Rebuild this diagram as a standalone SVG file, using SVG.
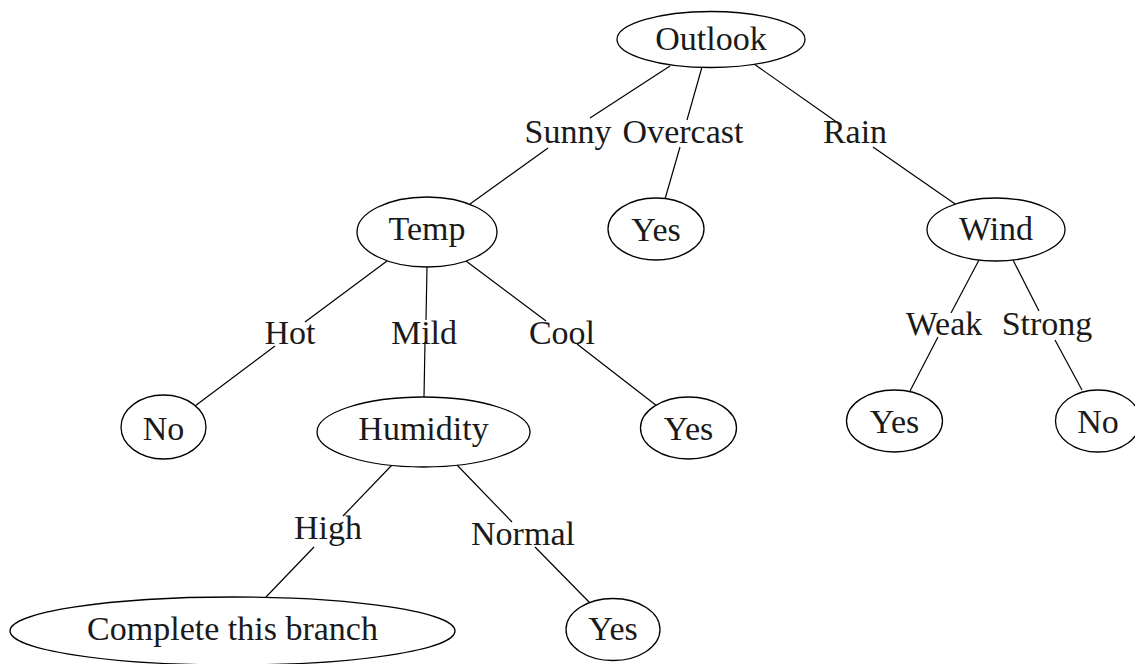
<svg xmlns="http://www.w3.org/2000/svg" width="1135" height="664" viewBox="0 0 1135 664">
<style>
  .n ellipse { fill: #fff; stroke: #000; stroke-width: 1.3; }
  text { font-family: "Liberation Serif", "Times New Roman", serif; font-size: 34px; fill: #1a1a1a; text-anchor: middle; }
  #edges line { stroke: #000; stroke-width: 1.2; }
</style>
<rect width="1135" height="664" fill="#fff"/>
<g id="edges">
  <line x1="670" y1="66" x2="590" y2="118"/>
  <line x1="548" y1="148" x2="470" y2="204"/>
  <line x1="702" y1="67" x2="687" y2="120"/>
  <line x1="680" y1="147" x2="665" y2="199"/>
  <line x1="754" y1="64" x2="838" y2="123"/>
  <line x1="873" y1="147" x2="958" y2="206"/>
  <line x1="387" y1="261" x2="305" y2="322"/>
  <line x1="275" y1="346" x2="195" y2="406"/>
  <line x1="427" y1="267" x2="426" y2="320"/>
  <line x1="425" y1="342" x2="424" y2="397"/>
  <line x1="466" y1="261" x2="546" y2="321"/>
  <line x1="577" y1="344" x2="657" y2="406"/>
  <line x1="979" y1="260" x2="951" y2="313"/>
  <line x1="938" y1="337" x2="910" y2="391"/>
  <line x1="1013" y1="260" x2="1039" y2="311"/>
  <line x1="1055" y1="340" x2="1082" y2="390"/>
  <line x1="392" y1="465" x2="343" y2="516"/>
  <line x1="314" y1="547" x2="266" y2="597"/>
  <line x1="457" y1="465" x2="512" y2="522"/>
  <line x1="535" y1="547" x2="590" y2="603"/>
</g>
<g id="edge-labels">
  <text x="568" y="143">Sunny</text>
  <text x="683" y="143">Overcast</text>
  <text x="855" y="143">Rain</text>
  <text x="290" y="344">Hot</text>
  <text x="424" y="344">Mild</text>
  <text x="562" y="344">Cool</text>
  <text x="944" y="335">Weak</text>
  <text x="1047" y="335">Strong</text>
  <text x="328" y="539">High</text>
  <text x="523" y="545">Normal</text>
</g>
<g id="outlook" class="n"><ellipse cx="711" cy="39.5" rx="94" ry="28"/><text x="711" y="50">Outlook</text></g>
<g id="temp" class="n"><ellipse cx="427" cy="232" rx="70" ry="35"/><text x="427" y="240">Temp</text></g>
<g id="yes-overcast" class="n"><ellipse cx="656" cy="229" rx="48" ry="31"/><text x="656" y="241">Yes</text></g>
<g id="wind" class="n"><ellipse cx="996" cy="229.5" rx="69" ry="31.5"/><text x="996" y="240">Wind</text></g>
<g id="no-hot" class="n"><ellipse cx="163.5" cy="427" rx="42.5" ry="32"/><text x="163.5" y="440">No</text></g>
<g id="humidity" class="n"><ellipse cx="423.5" cy="432" rx="106.5" ry="35"/><text x="423.5" y="440">Humidity</text></g>
<g id="yes-cool" class="n"><ellipse cx="688.5" cy="428" rx="48" ry="31"/><text x="688.5" y="440">Yes</text></g>
<g id="yes-weak" class="n"><ellipse cx="894.5" cy="421" rx="48" ry="31"/><text x="894.5" y="433">Yes</text></g>
<g id="no-strong" class="n"><ellipse cx="1098" cy="421" rx="42.5" ry="31"/><text x="1098" y="433">No</text></g>
<g id="complete" class="n"><ellipse cx="232.5" cy="631" rx="222.5" ry="34"/><text x="232.5" y="640">Complete this branch</text></g>
<g id="yes-normal" class="n"><ellipse cx="613" cy="629.5" rx="47" ry="31"/><text x="613" y="640">Yes</text></g>
</svg>
